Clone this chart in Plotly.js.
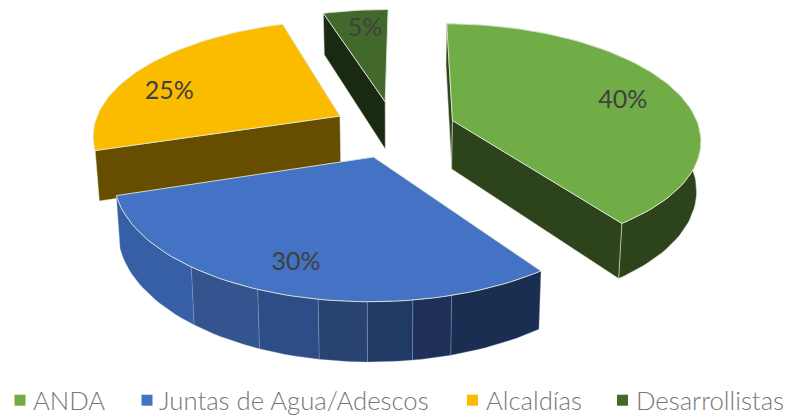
<!DOCTYPE html>
<html><head><meta charset="utf-8">
<script src="https://cdn.plot.ly/plotly-3.0.1.min.js"></script>
<style>html,body{margin:0;padding:0;background:#fff}#c{width:785px;height:416px}</style></head>
<body><div id="c"></div>
<script>
const categories = ['ANDA', 'Juntas de Agua/Adescos', 'Alcaldías', 'Desarrollistas'];
const shares = [40, 30, 25, 5];
const topColors = ['#70AD47', '#4472C4', '#FBBC00', '#43682B'];
const wallColors = ['#2C431B', '#1A2E52', '#664D00', '#1A2911'];
const blueFacetPct = [40, 45.5, 47.6, 50.0, 52.6, 56.0, 60.4, 70];
const blueFacetColors = ['#1A2E52', '#1F3058', '#213A63', '#284271', '#2E4C85', '#33548F', '#365FA6'];

// projection of the exploded, tilted pie
const V = {cx: 394, cy: 129, R: 247, E: 62, k: 0.46, p: 0.15, H: 49, g: 0.014, rot: 0.5};
function P(X, Y, Z) {
  const f = 1 / (1 - V.p * Y);
  const s = 1 - V.g * Z;
  return [V.cx + V.R * X * f * s, V.cy + V.R * V.k * Y * f + V.H * Z * f];
}
function dir(pct) { const t = (pct * 3.6 + V.rot) * Math.PI / 180; return [Math.sin(t), -Math.cos(t)]; }
function rim(c, a, b, Z) {
  const n = Math.max(2, Math.round((b - a) * 2)), o = [];
  for (let i = 0; i <= n; i++) { const d = dir(a + (b - a) * i / n); o.push(P(c[0] + d[0], c[1] + d[1], Z)); }
  return o;
}
function poly(pts, fill, line, w) {
  const c = pts.concat([pts[0]]);
  return {x: c.map(p => p[0]), y: c.map(p => p[1]), mode: 'lines', fill: 'toself', fillcolor: fill,
    line: {color: line || fill, width: w === undefined ? 0.5 : w}, hoverinfo: 'skip', showlegend: false};
}
const edge = 'rgba(222,232,212,0.9)';
let start = 0; const geo = shares.map(v => { const a = start; start += v; const d = dir((a + start) / 2); return {a, b: start, c: [d[0] * V.E / V.R, d[1] * V.E / V.R]}; });

function sliceTraces(i) {
  const g = geo[i], out = [];
  const apexT = P(g.c[0], g.c[1], 0), apexB = P(g.c[0], g.c[1], 1);
  const arcT = rim(g.c, g.a, g.b, 0);
  if (i === 1) {
    for (let j = 0; j < blueFacetColors.length; j++) {
      const a = blueFacetPct[j], b = blueFacetPct[j + 1];
      out.push(poly(rim(g.c, a, b, 0).concat(rim(g.c, a, b, 1).reverse()), blueFacetColors[j], 'rgba(150,170,205,0.55)', 0.6));
    }
  } else if (i === 0) {
    const a = rim(g.c, g.a, g.b, 0), b = rim(g.c, g.a, g.b, 1);
    out.push(poly(a.concat(b.reverse()), wallColors[i], edge, 0.6));
    const s0 = P(g.c[0] + dir(g.a)[0], g.c[1] + dir(g.a)[1], 0), s1 = P(g.c[0] + dir(g.a)[0], g.c[1] + dir(g.a)[1], 1);
    out.push(poly([s0, apexT, apexB, s1], wallColors[i], edge, 0.6));
    const e0 = arcT[arcT.length - 1], d = dir(g.b), e1 = P(g.c[0] + d[0], g.c[1] + d[1], 1);
    out.push(poly([apexT, e0, e1, apexB], wallColors[i], edge, 0.6));
  } else {
    const d = dir(g.a);
    const o0 = P(g.c[0] + d[0], g.c[1] + d[1], 0), o1 = P(g.c[0] + d[0], g.c[1] + d[1], 1);
    out.push(poly([apexT, o0, o1, apexB], wallColors[i], edge, 0.6));
  }
  out.push(poly([apexT].concat(arcT), topColors[i], edge, 1));
  return out;
}
const traces = [];
[3, 2, 0, 1].forEach(i => traces.push(...sliceTraces(i)));

// labels placed on each slice's mid radius
const labelRadius = [0.74, 0.81, 0.765, 0.76];
const labelShift = [1.2, 0, -3, 0.3];
const lab = geo.map((g, i) => { const d = dir((g.a + g.b) / 2 + labelShift[i]); return P(g.c[0] + d[0] * labelRadius[i], g.c[1] + d[1] * labelRadius[i], 0); });
traces.push({x: lab.map(p => p[0]), y: lab.map(p => p[1]), mode: 'text', text: shares.map(v => v + '%'),
  textfont: {family: 'Lato, sans-serif', size: 25, color: '#404040'}, hoverinfo: 'skip', showlegend: false});

// legend
categories.forEach((n, i) => traces.push({x: [null], y: [null], mode: 'markers', name: n,
  marker: {symbol: 'square', size: 11, color: topColors[i]}, hoverinfo: 'skip'}));

const layout = {
  width: 785, height: 416, margin: {l: 0, r: 0, t: 0, b: 0}, paper_bgcolor: '#fff', plot_bgcolor: '#fff',
  xaxis: {visible: false, range: [0, 785], fixedrange: true},
  yaxis: {visible: false, range: [416, 0], fixedrange: true},
  showlegend: true,
  legend: {orientation: 'h', x: 0, y: 0, xanchor: 'left', yanchor: 'bottom', traceorder: 'normal',
    font: {family: 'Lato, sans-serif', size: 25.7, color: '#777777', weight: 300}, itemclick: false, itemdoubleclick: false, bgcolor: 'rgba(0,0,0,0)'}
};
const legendTextX = [33, 159, 486, 636], legendMarkX = [20, 147, 472.5, 622.5], legendDrop = 8;
Plotly.newPlot('c', traces, layout, {displayModeBar: false}).then(() => {
  document.querySelectorAll('.legend .traces').forEach((g, i) => {
    const t = g.querySelector('.legendtext'), m = g.querySelector('.legendpoints');
    const tx = legendTextX[i] - (+t.getAttribute('x'));
    const y = +(g.getAttribute('transform').match(/,\s*([-\d.]+)/) || [0, 0])[1];
    g.setAttribute('transform', 'translate(' + tx + ',' + (y + legendDrop) + ')');
    const pt = m.querySelector('path');
    const mx = +(pt.getAttribute('transform').match(/\(([-\d.]+)/) || [0, 0])[1];
    m.setAttribute('transform', 'translate(' + (legendMarkX[i] - tx - mx) + ',0)');
  });
  const cp = document.querySelector('.legend .scrollbox'); if (cp) cp.removeAttribute('clip-path');
});
</script></body></html>
